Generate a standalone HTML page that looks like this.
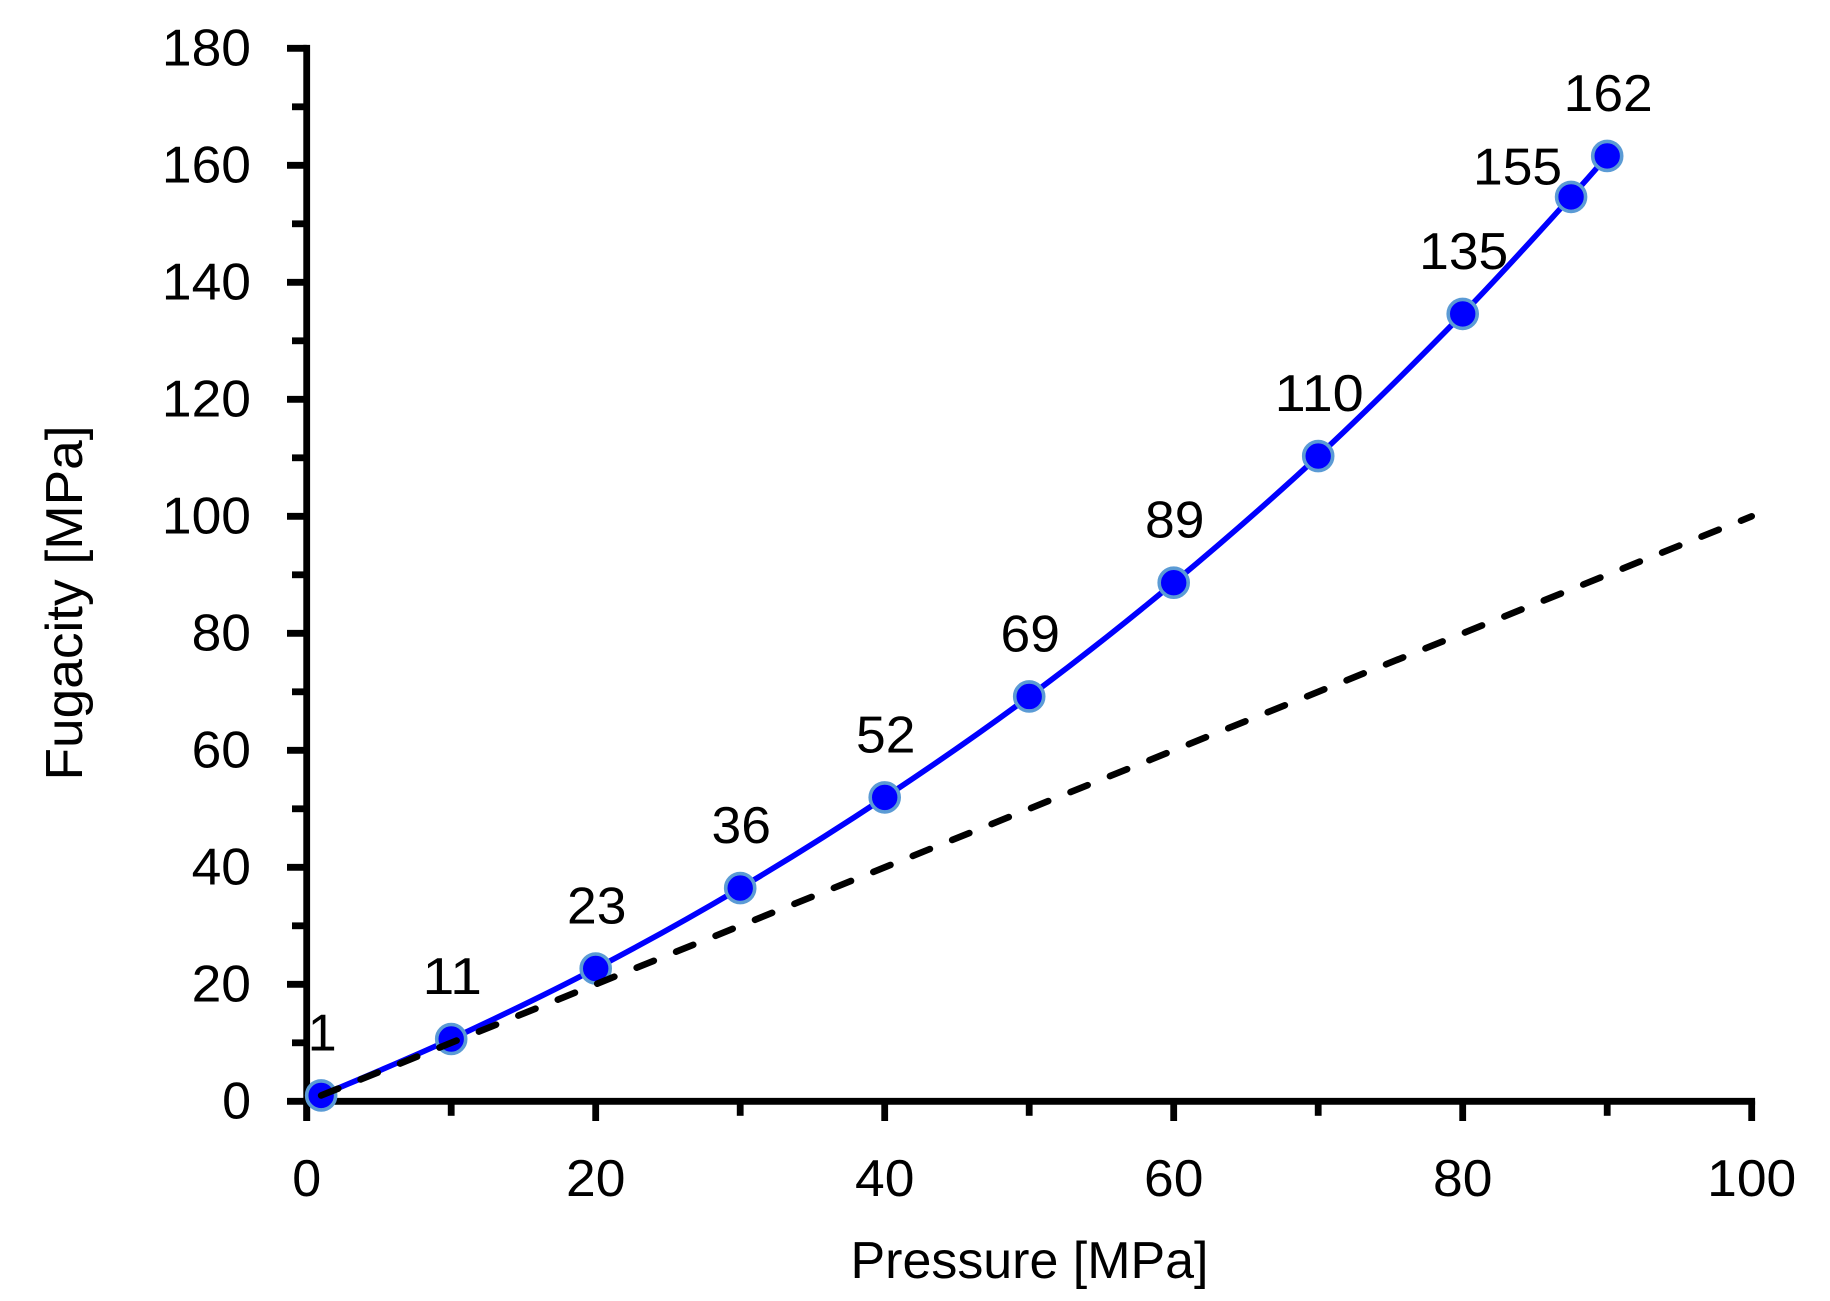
<!DOCTYPE html>
<html lang="en">
<head>
<meta charset="utf-8">
<title>Fugacity vs Pressure</title>
<style>
html,body{margin:0;padding:0;background:#fff;}
svg{display:block;}
text{font-family:"Liberation Sans",sans-serif;fill:#000;}
</style>
</head>
<body>
<svg id="chart" xmlns="http://www.w3.org/2000/svg" width="1830" height="1301" viewBox="0 0 1830 1301"></svg>
<script>
const pressures = [1, 10, 20, 30, 40, 50, 60, 70, 80, 87.5, 90];
const fugacities = [1, 10.65, 22.7, 36.45, 51.95, 69.2, 88.65, 110.3, 134.6, 154.6, 161.6];
const pointLabels = ["1", "11", "23", "36", "52", "69", "89", "110", "135", "155", "162"];
const idealPressures = [1, 100];
const idealFugacities = [1, 100];
const xTickLabels = [0, 20, 40, 60, 80, 100];
const xMinorTicks = [10, 30, 50, 70, 90];
const yTickLabels = [0, 20, 40, 60, 80, 100, 120, 140, 160, 180];
const yMinorTicks = [10, 30, 50, 70, 90, 110, 130, 150, 170];

const NS = 'http://www.w3.org/2000/svg';
const svg = document.getElementById('chart');
const X0 = 306.7, X1 = 1751.7, XMIN = 0, XMAX = 100;
const Y0 = 1101.3, Y1 = 48.3, YMIN = 0, YMAX = 180;
function xScale(v) { return X0 + (v - XMIN) / (XMAX - XMIN) * (X1 - X0); }
function yScale(v) { return Y0 - (v - YMIN) / (YMAX - YMIN) * (Y0 - Y1); }
function make(tag, attrs, parent) {
  const el = document.createElementNS(NS, tag);
  for (const k in attrs) el.setAttribute(k, attrs[k]);
  (parent || svg).appendChild(el);
  return el;
}
function fit(textEl, str) {
  textEl.textContent = str;
  const n = String(str).length;
  if (n > 1) {
    textEl.setAttribute('textLength', n * 29.7);
    textEl.setAttribute('lengthAdjust', 'spacingAndGlyphs');
  }
}
const AXW = 6.8;

/* Axes */
let el = make('line', {x1: X0, y1: Y1 - 3.4, x2: X0, y2: 1120.8, stroke: '#000', 'stroke-width': AXW});


el = make('line', {x1: X0 - 3.4, y1: Y0, x2: X1 + 3.4, y2: Y0, stroke: '#000', 'stroke-width': AXW});



/* Y ticks */
yTickLabels.forEach(function (v) {
  const t = make('line', {x1: 287, y1: yScale(v), x2: X0, y2: yScale(v), stroke: '#000', 'stroke-width': AXW});
  
  
  const l = make('text', {x: 251, y: yScale(v) + 17.3, 'text-anchor': 'end', 'font-size': 52});
  fit(l, v);
  
  
});
yMinorTicks.forEach(function (v) {
  const t = make('line', {x1: 292, y1: yScale(v), x2: X0, y2: yScale(v), stroke: '#000', 'stroke-width': AXW});
  
  
});

/* X ticks */
xTickLabels.forEach(function (v) {
  const t = make('line', {x1: xScale(v), y1: Y0, x2: xScale(v), y2: 1121, stroke: '#000', 'stroke-width': AXW});
  
  
  const l = make('text', {x: xScale(v), y: 1196, 'text-anchor': 'middle', 'font-size': 52});
  fit(l, v);
  
  
});
xMinorTicks.forEach(function (v) {
  const t = make('line', {x1: xScale(v), y1: Y0, x2: xScale(v), y2: 1115.8, stroke: '#000', 'stroke-width': AXW});
  
  
});

/* Axis titles */
el = make('text', {x: 1029.5, y: 1278, 'text-anchor': 'middle', 'font-size': 52, textLength: 358, lengthAdjust: 'spacingAndGlyphs'});
el.textContent = 'Pressure [MPa]';


el = make('text', {x: 0, y: 0, 'text-anchor': 'middle', 'font-size': 52, textLength: 355, lengthAdjust: 'spacingAndGlyphs', transform: 'translate(82 603) rotate(-90)'});
el.textContent = 'Fugacity [MPa]';



/* Smooth fugacity curve (Catmull-Rom through the data) */
const pts = pressures.map(function (p, i) { return [xScale(p), yScale(fugacities[i])]; });
let d = 'M' + pts[0][0] + ' ' + pts[0][1];
for (let i = 0; i < pts.length - 1; i++) {
  const a = pts[Math.max(i - 1, 0)], b = pts[i], c = pts[i + 1], e = pts[Math.min(i + 2, pts.length - 1)];
  d += ' C' + (b[0] + (c[0] - a[0]) / 6) + ' ' + (b[1] + (c[1] - a[1]) / 6) + ' ' +
       (c[0] - (e[0] - b[0]) / 6) + ' ' + (c[1] - (e[1] - b[1]) / 6) + ' ' + c[0] + ' ' + c[1];
}
el = make('path', {d: d, fill: 'none', stroke: '#0000ff', 'stroke-width': 5.6});



/* Markers */
pts.forEach(function (p) {
  const c = make('circle', {cx: p[0], cy: p[1], r: 14.5, fill: '#0000ff', stroke: '#5b9bd5', 'stroke-width': 3.6});
  
  
});

/* Ideal gas dashed line */
el = make('line', {
  x1: xScale(idealPressures[0]), y1: yScale(idealFugacities[0]),
  x2: xScale(idealPressures[1]), y2: yScale(idealFugacities[1]),
  stroke: '#000', 'stroke-width': 6.6, 'stroke-linecap': 'round', 'stroke-dasharray': '18.5 24.05'
});



/* Point labels */
pointLabels.forEach(function (txt, i) {
  const shifted = txt === '155';
  const l = make('text', {
    x: pts[i][0] + (shifted ? -53.5 : 1),
    y: shifted ? pts[i][1] - 12.5 : pts[i][1] - 45,
    'text-anchor': 'middle', 'font-size': 52
  });
  fit(l, txt);
  
  
});
</script>
</body>
</html>
